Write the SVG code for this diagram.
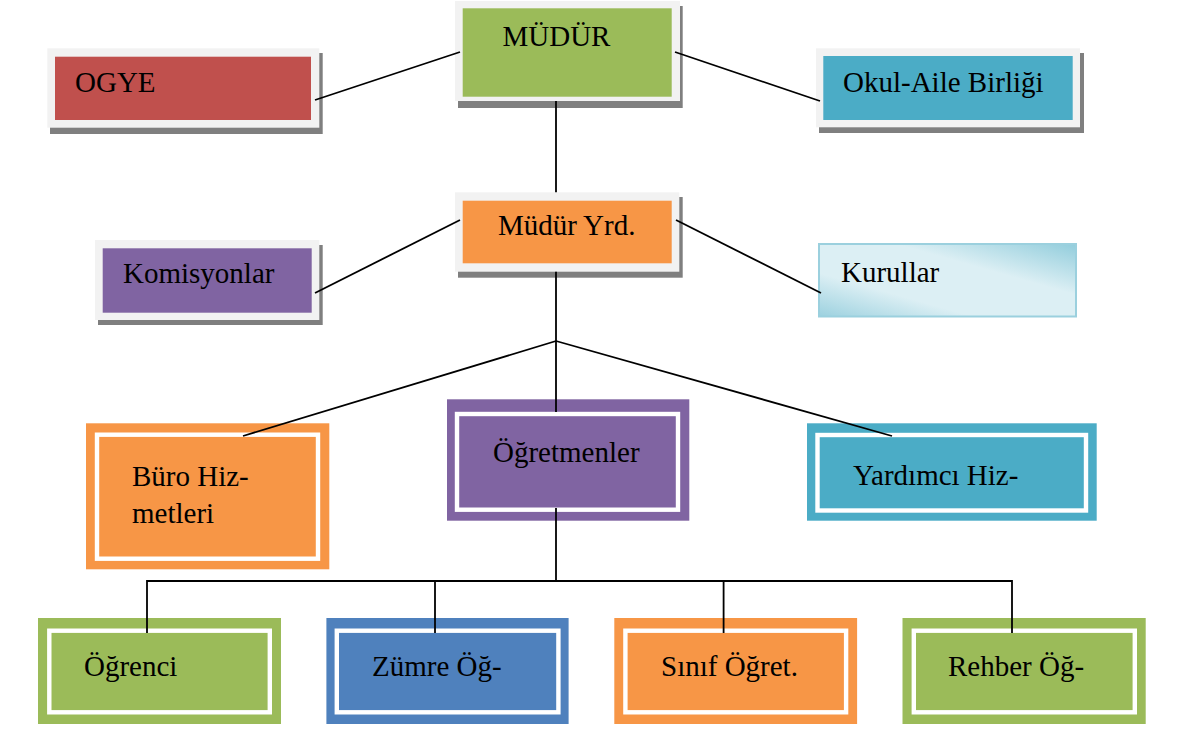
<svg xmlns="http://www.w3.org/2000/svg" width="1181" height="744" viewBox="0 0 1181 744">
<defs>
<linearGradient id="kur" x1="0" y1="1" x2="1" y2="0">
<stop offset="0" stop-color="#9CD1DF"/>
<stop offset="0.3" stop-color="#DCEFF4"/>
<stop offset="0.65" stop-color="#DCEFF4"/>
<stop offset="1" stop-color="#92CDDC"/>
</linearGradient>
</defs>
<style>
.sh{fill:#7F7F7F}
.fr{fill:#F2F2F2}
.wb{stroke:#FFFFFF;stroke-width:4.4}
.t{font-family:'Liberation Serif','DejaVu Serif',serif;font-size:29px;fill:#000}
.red{fill:#C0504D}.grn{fill:#9BBB59}.blu{fill:#4BACC6}.pur{fill:#8064A2}.org{fill:#F79646}.dbl{fill:#4F81BD}
.ln{stroke:#000;stroke-width:1.8;fill:none}
</style>
<rect width="1181" height="744" fill="#FFFFFF"/>

<g id="ogye">
<rect class="sh" x="50" y="53" width="272.7" height="81"/>
<rect class="fr" x="47.3" y="48.3" width="272" height="79.4"/>
<rect class="red" x="55" y="56.7" width="256" height="63.3"/>
<text class="t" x="75" y="92">OGYE</text>
</g>
<g id="mudur">
<rect class="sh" x="458" y="6" width="224.7" height="102"/>
<rect class="fr" x="455" y="1" width="225" height="100"/>
<rect class="grn" x="462.7" y="8.3" width="209" height="88.4"/>
<text class="t" x="502.5" y="45.5">MÜDÜR</text>
</g>
<g id="okul-aile">
<rect class="sh" x="819" y="53" width="265" height="80"/>
<rect class="fr" x="816" y="48.3" width="264" height="79"/>
<rect class="blu" x="823.3" y="56" width="249.4" height="64"/>
<text class="t" x="843" y="92">Okul-Aile Birliği</text>
</g>
<g id="komisyonlar">
<rect class="sh" x="98" y="245" width="224.7" height="80"/>
<rect class="fr" x="95" y="240" width="224.3" height="80"/>
<rect class="pur" x="102.7" y="248.3" width="209" height="64.4"/>
<text class="t" x="123" y="283">Komisyonlar</text>
</g>
<g id="mudur-yrd">
<rect class="sh" x="458" y="197" width="224.7" height="80.7"/>
<rect class="fr" x="455" y="192.3" width="224.3" height="79.4"/>
<rect class="org" x="462.7" y="200.7" width="209" height="62.6"/>
<text class="t" x="498" y="235">Müdür Yrd.</text>
</g>
<g id="kurullar">
<rect x="819" y="244" width="257" height="72.5" fill="url(#kur)" stroke="#9BD0DE" stroke-width="2"/>
<text class="t" x="841" y="282">Kurullar</text>
</g>

<g id="buro">
<rect class="org" x="86" y="423.3" width="243.3" height="146"/>
<rect class="org wb" x="97" y="434.7" width="221" height="124"/>
<text class="t" x="132" y="486">Büro Hiz-</text>
<text class="t" x="132" y="523">metleri</text>
</g>
<g id="ogretmenler">
<rect class="pur" x="447" y="399.3" width="242.3" height="121.4"/>
<rect class="pur wb" x="457" y="414" width="221" height="95.7"/>
<text class="t" x="493" y="462">Öğretmenler</text>
</g>
<g id="yardimci">
<rect class="blu" x="807" y="423.3" width="289.7" height="97.4"/>
<rect class="blu wb" x="817.5" y="435" width="268.5" height="75.5"/>
<text class="t" x="853" y="485">Yardımcı Hiz-</text>
</g>

<g id="ogrenci">
<rect class="grn" x="38" y="618" width="243" height="106"/>
<rect class="grn wb" x="49.3" y="630.7" width="220.5" height="81.6"/>
<text class="t" x="84" y="676">Öğrenci</text>
</g>
<g id="zumre">
<rect class="dbl" x="326.4" y="618" width="242.2" height="106"/>
<rect class="dbl wb" x="336.8" y="630.7" width="221.6" height="81.6"/>
<text class="t" x="372" y="676">Zümre Öğ-</text>
</g>
<g id="sinif">
<rect class="org" x="614.3" y="618" width="242.8" height="106"/>
<rect class="org wb" x="625.4" y="630.7" width="220.7" height="81.6"/>
<text class="t" x="661" y="676">Sınıf Öğret.</text>
</g>
<g id="rehber">
<rect class="grn" x="902.5" y="618" width="243.2" height="106"/>
<rect class="grn wb" x="913.8" y="630.7" width="221" height="81.6"/>
<text class="t" x="948" y="676">Rehber Öğ-</text>
</g>

<g id="connectors">
<line class="ln" x1="460" y1="52" x2="315" y2="100"/>
<line class="ln" x1="675" y1="52" x2="820" y2="101"/>
<line class="ln" x1="556" y1="101" x2="556" y2="192.3"/>
<line class="ln" x1="460" y1="220" x2="315" y2="293"/>
<line class="ln" x1="676" y1="220" x2="821" y2="293"/>
<line class="ln" x1="556" y1="271.7" x2="556" y2="412"/>
<line class="ln" x1="556" y1="341" x2="243" y2="436"/>
<line class="ln" x1="556" y1="341" x2="892" y2="436"/>
<line class="ln" x1="556" y1="508" x2="556" y2="581"/>
<polyline class="ln" points="147,633 147,581 1012,581 1012,633"/>
<line class="ln" x1="435" y1="581" x2="435" y2="633"/>
<line class="ln" x1="723.6" y1="581" x2="723.6" y2="633"/>
</g>
</svg>
